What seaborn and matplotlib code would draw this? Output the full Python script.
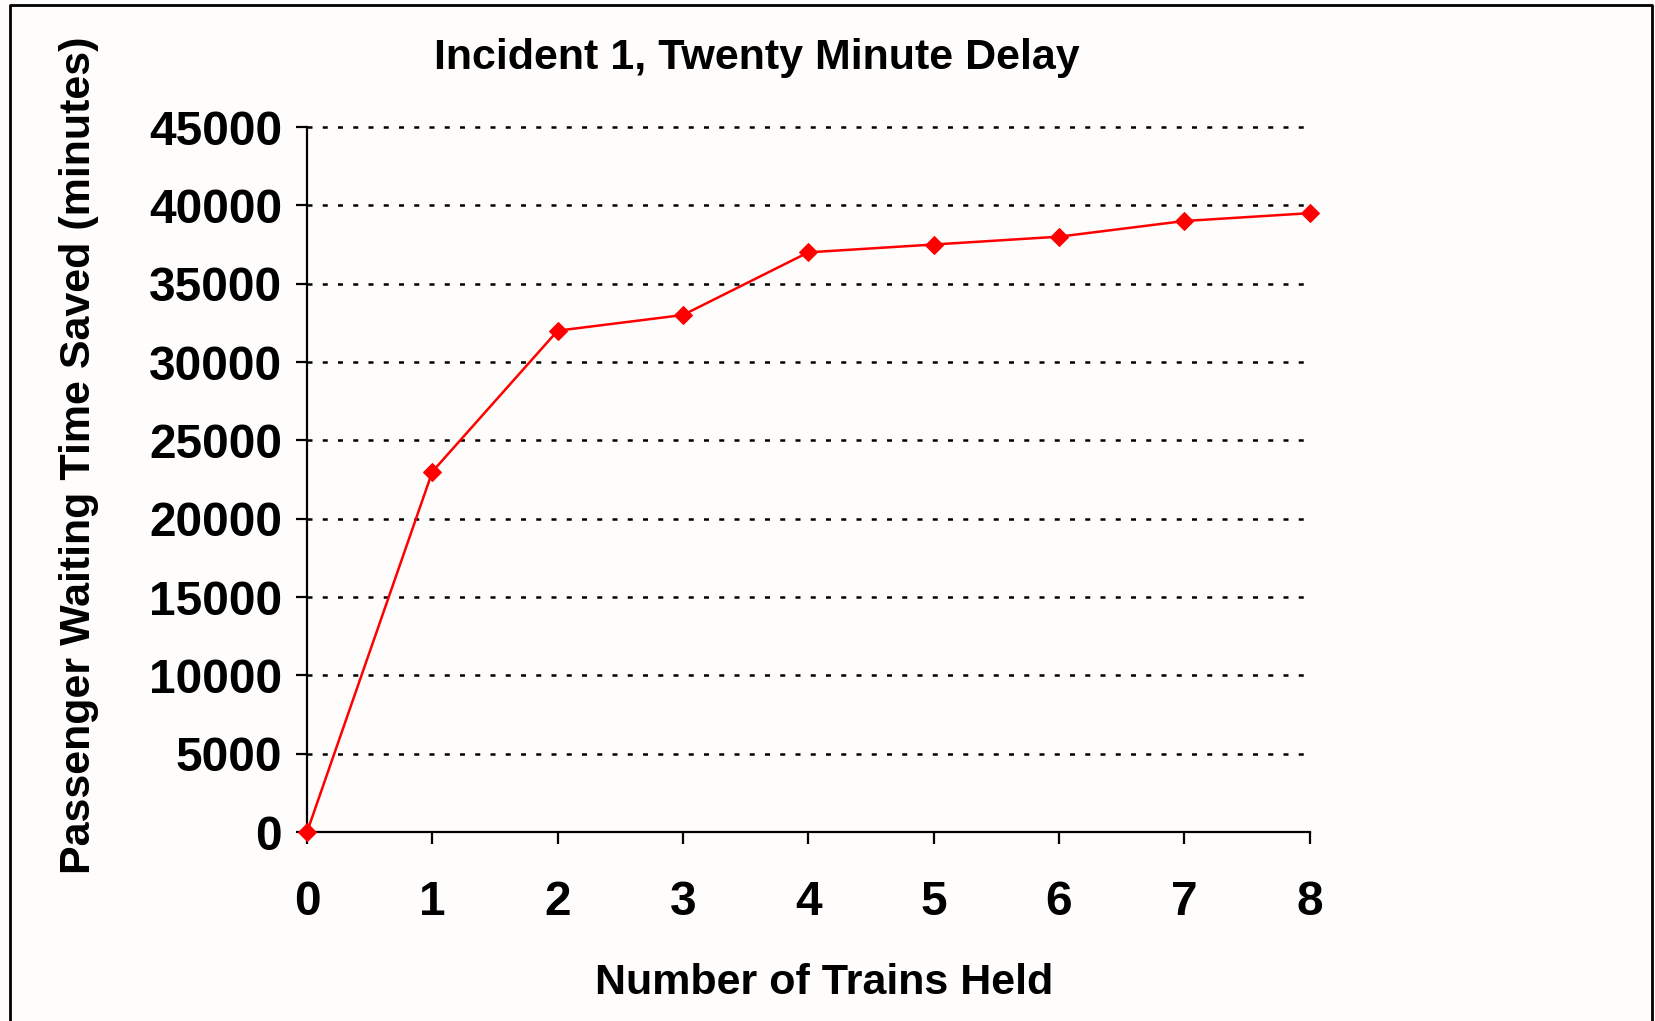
import matplotlib
matplotlib.use("Agg")
import matplotlib.pyplot as plt
import seaborn as sns
import pandas as pd
from matplotlib.lines import Line2D

# Data
trains_held = [0, 1, 2, 3, 4, 5, 6, 7, 8]
time_saved = [0, 23000, 32000, 33000, 37000, 37500, 38000, 39000, 39500]
y_ticks = [0, 5000, 10000, 15000, 20000, 25000, 30000, 35000, 40000, 45000]

df = pd.DataFrame({"Trains": trains_held, "Saved": time_saved})

sns.set_style("white")
plt.rcParams['font.family'] = ['Liberation Sans', 'DejaVu Sans']
plt.rcParams['text.color'] = "black"
plt.rcParams['xtick.color'] = "black"
plt.rcParams['ytick.color'] = "black"
bg = "#fefdfc"

fig = plt.figure(figsize=(16.56, 10.21), dpi=100, facecolor=bg)
ax = fig.add_axes([0.1854, 0.1851, 0.6054, 0.6905], facecolor=bg)

# Gridlines (dotted, black)
for y in y_ticks[1:]:
    ax.plot([0, 7.98], [y, y], color="black", lw=1.8,
            linestyle=(0, (2.0, 4.1)), zorder=1, clip_on=False)

sns.lineplot(data=df, x="Trains", y="Saved", color="#ff0000", lw=1.8,
             marker="D", markersize=9.5, markeredgecolor="#ff0000",
             ax=ax, zorder=3, clip_on=False)

ax.set_xlim(0, 8)
ax.set_ylim(0, 45000)
ax.set_xticks(trains_held)
ax.set_yticks(y_ticks)
ax.set_xlabel("")
ax.set_ylabel("")

for s in ["top", "right"]:
    ax.spines[s].set_visible(False)
for s in ["left", "bottom"]:
    ax.spines[s].set_color("black")
    ax.spines[s].set_linewidth(1.6)

ax.tick_params(axis="x", direction="out", length=8.5, width=1.6, colors="black",
               pad=26, labelsize=34.5, bottom=True)
ax.tick_params(axis="y", direction="out", length=8, width=1.6, colors="black",
               pad=10, labelsize=34.5, left=True)
for lbl in ax.get_xticklabels() + ax.get_yticklabels():
    lbl.set_fontweight("bold")

# Titles and axis labels
fig.text(0.457, 0.943, "Incident 1, Twenty Minute Delay", ha="center", va="center",
         fontsize=31, fontweight="bold", color="black")
fig.text(0.4976, 0.037, "Number of Trains Held", ha="center", va="center",
         fontsize=31, fontweight="bold", color="black")
fig.text(0.0477, 0.554, "Passenger Waiting Time Saved (minutes)", ha="center",
         va="center", rotation=90, fontsize=31, fontweight="bold", color="black")

# Border around the chart (left, top, right)
x0, x1, y1 = 9.5 / 1656, 1652.5 / 1656, 1 - 5.5 / 1021
fig.add_artist(Line2D([x0, x0, x1, x1], [0, y1, y1, 0], color="black", lw=2,
                      transform=fig.transFigure))

fig.savefig("out.png", dpi=100, facecolor=bg)
